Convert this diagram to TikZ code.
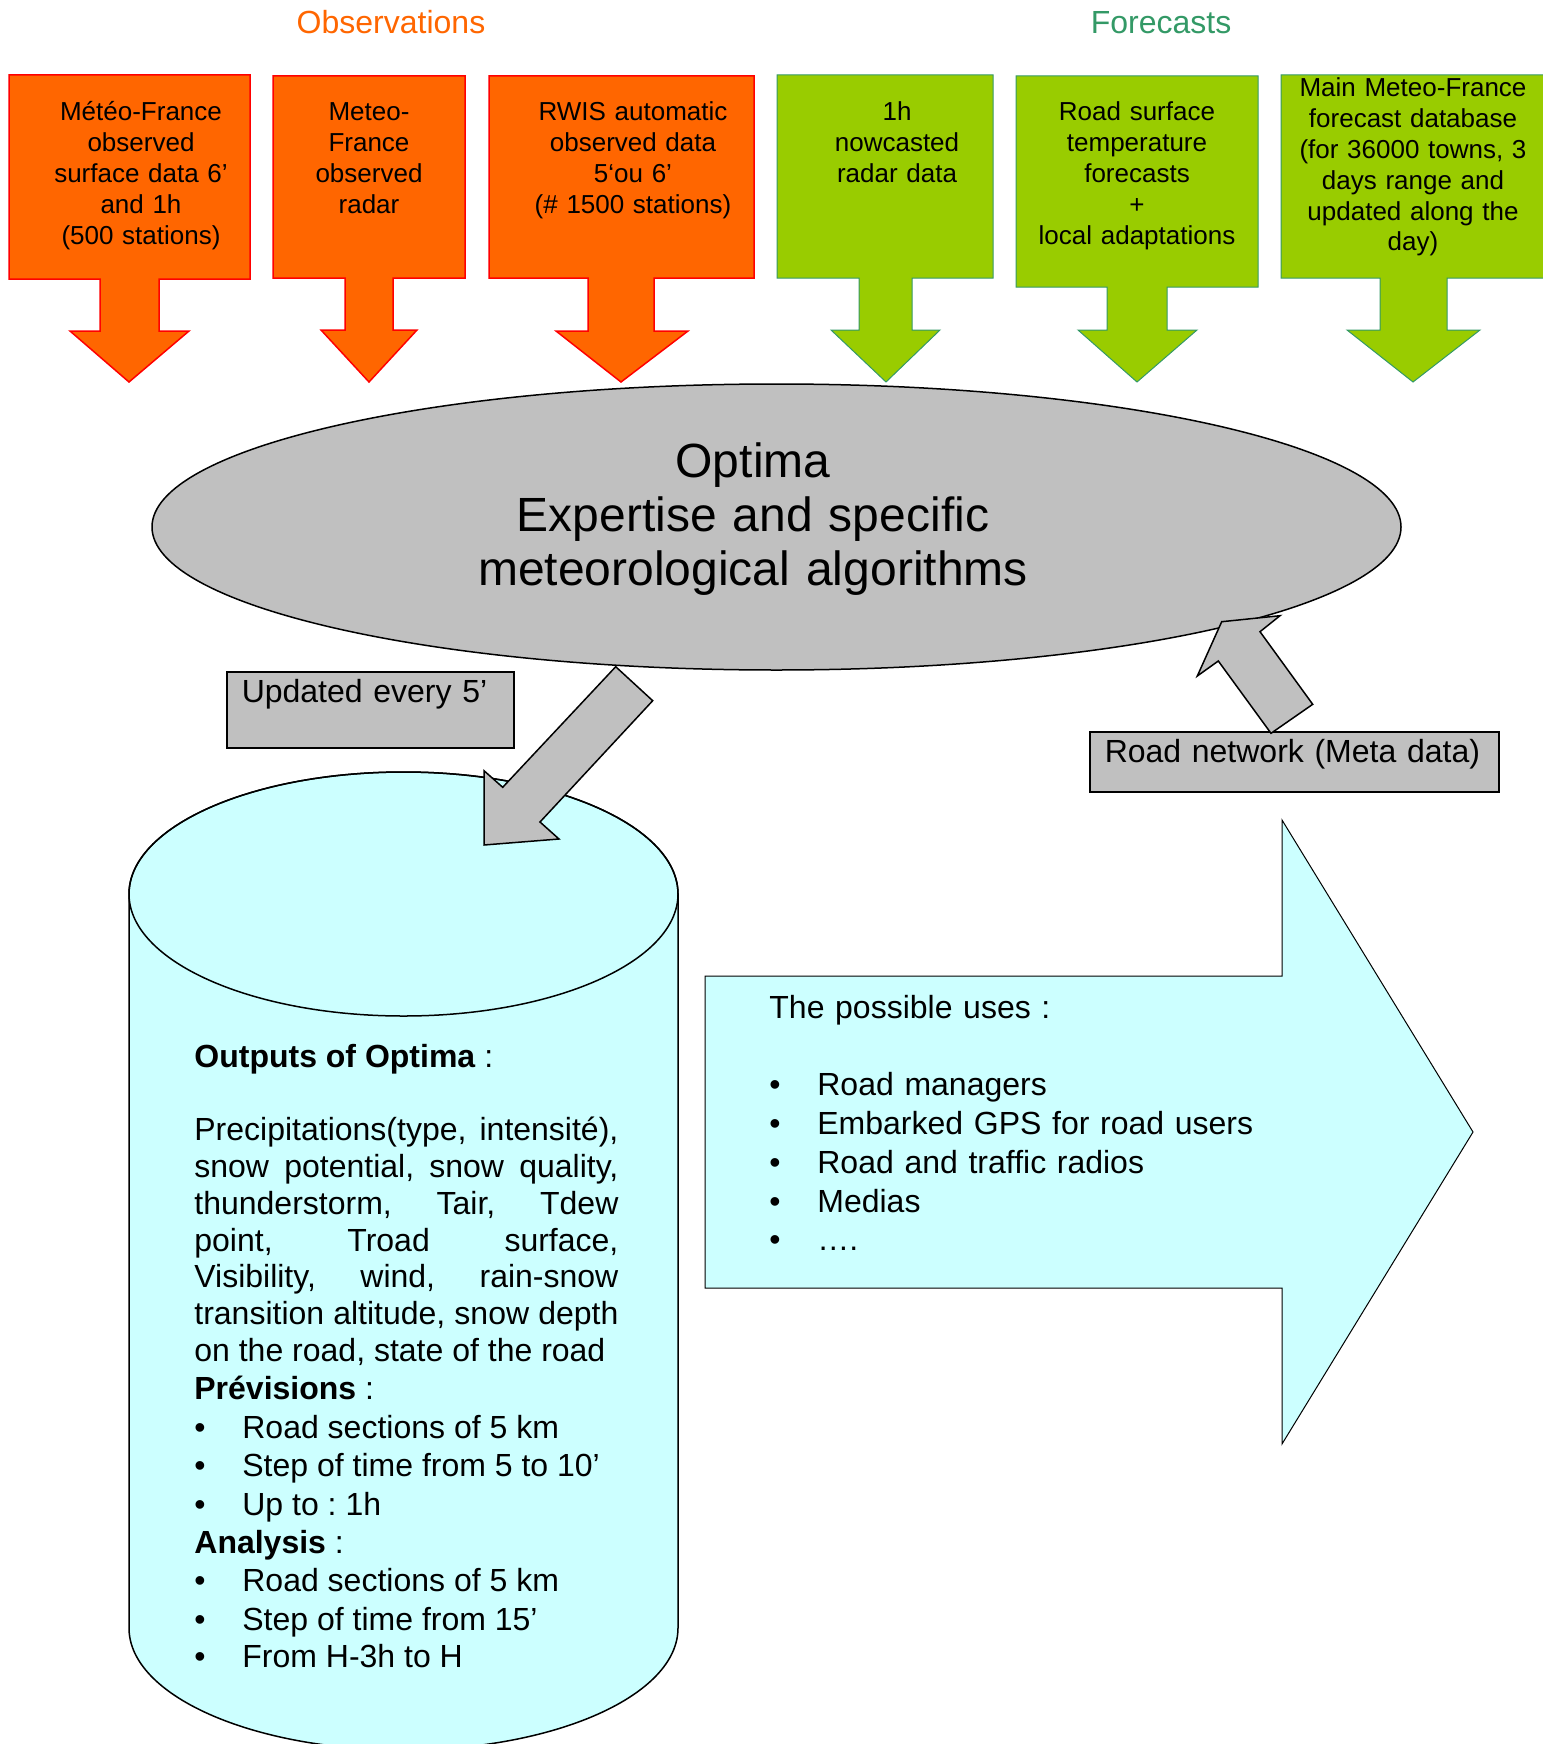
\documentclass[tikz,border=0pt]{standalone}
\usepackage{fontspec}
\setmainfont{Liberation Sans}
\usepackage{tikz}
\usetikzlibrary{shapes.geometric,positioning}
\definecolor{obsorange}{RGB}{255,102,0}
\definecolor{obsred}{RGB}{255,0,0}
\definecolor{fcgreen}{RGB}{153,204,0}
\definecolor{fcline}{RGB}{51,153,102}
\definecolor{graybg}{RGB}{192,192,192}
\definecolor{cyanbg}{RGB}{204,255,255}
\newcommand{\itembul}{\makebox[24pt][l]{\textbullet}}
\tolerance=10000
\hbadness=10000
\hyphenpenalty=10000
\exhyphenpenalty=10000
\frenchspacing
\tikzset{
  headtxt/.style={anchor=base,inner sep=0pt,font=\fontsize{16}{19}\selectfont},
  obscall/.style={fill=obsorange,draw=obsred,line width=0.75pt},
  fccall/.style={fill=fcgreen,draw=fcline,line width=0.5pt},
  calltxt/.style={anchor=base,text width=120pt,align=center,inner sep=0pt,font=\fontsize{13}{15.4}\selectfont},
  optimaell/.style={ellipse,draw,fill=graybg,line width=0.75pt,inner sep=0pt,minimum width=624.5pt,minimum height=143pt},
  optimatxt/.style={anchor=base,text width=320pt,align=center,inner sep=0pt,font=\fontsize{24}{27}\selectfont},
  graybox/.style={rectangle,draw,fill=graybg,line width=0.75pt,anchor=north west,inner xsep=7.5pt,inner ysep=2pt,text height=13.5pt,align=left,font=\fontsize{16}{19}\selectfont},
  blockarrow/.style={fill=graybg,draw,line width=0.75pt},
  cylfill/.style={fill=cyanbg,draw,line width=0.75pt},
  cyltxt/.style={anchor=base west,text width=212pt,align=justify,inner sep=0pt,font=\fontsize{16}{18.4}\selectfont},
  usestxt/.style={anchor=base west,text width=300pt,align=left,inner sep=0pt,font=\fontsize{16}{19.4}\selectfont}
}
\begin{document}
\begin{tikzpicture}[x=0.5pt,y=-0.5pt]
\useasboundingbox (0,0) rectangle (1542,1744);
% headings
\node[headtxt,text=obsorange] (obshead) at (391,34) {Observations};
\node[headtxt,text=fcline] (fchead) at (1161,34) {Forecasts};
% observation callouts
\filldraw[obscall] (9,75) -- (250,75) -- (250,279) -- (159,279) -- (159,331) -- (189,331) -- (129,382) -- (70,331) -- (100,331) -- (100,279) -- (9,279) -- cycle;
\filldraw[obscall] (273,76) -- (465,76) -- (465,278) -- (393,278) -- (393,330) -- (417,330) -- (369,382) -- (321,330) -- (345,330) -- (345,278) -- (273,278) -- cycle;
\filldraw[obscall] (489,76) -- (754,76) -- (754,278) -- (654,278) -- (654,331) -- (688,331) -- (621,382) -- (556,331) -- (588,331) -- (588,278) -- (489,278) -- cycle;
% forecast callouts
\filldraw[fccall] (777,75) -- (993,75) -- (993,278) -- (912,278) -- (912,330) -- (940,330) -- (886,382) -- (831,330) -- (859,330) -- (859,278) -- (777,278) -- cycle;
\filldraw[fccall] (1016,76) -- (1258,76) -- (1258,287) -- (1167,287) -- (1167,330) -- (1197,330) -- (1137,382) -- (1078,330) -- (1107,330) -- (1107,287) -- (1016,287) -- cycle;
\filldraw[fccall] (1281,75) -- (1546,75) -- (1546,278) -- (1447,278) -- (1447,330) -- (1480,330) -- (1413,382) -- (1347,330) -- (1380,330) -- (1380,278) -- (1281,278) -- cycle;
\node[calltxt] (obs1) at (141,121) {Météo-France\\observed\\surface data 6’\\and 1h\\(500 stations)};
\node[calltxt] (obs2) at (369,121) {Meteo-\\France\\observed\\radar};
\node[calltxt] (obs3) at (633,121) {RWIS automatic\\observed data\\5‘ou 6’\\(\# 1500 stations)};
\node[calltxt] (fc1) at (897,121) {1h\\nowcasted\\radar data};
\node[calltxt] (fc2) at (1137,121) {Road surface\\temperature\\forecasts\\+\\local adaptations};
\node[calltxt] (fc3) at (1413,97) {Main Meteo-France\\forecast database\\(for 36000 towns, 3\\days range and\\updated along the\\day)};
% outputs cylinder
\filldraw[cylfill] (129,894) -- (129,1628) arc[start angle=180,end angle=360,x radius=137.25pt,y radius=61pt] -- (678,894) arc[start angle=0,end angle=180,x radius=137.25pt,y radius=61pt] -- cycle;
\draw[line width=0.75pt] (403.5,894) ellipse[x radius=137.25pt,y radius=61pt];
% central ellipse
\node[optimaell] (optima) at (776.5,527) {};
\node[optimatxt] (optimatxt) at (753,477) {Optima\\Expertise and specific\\meteorological algorithms};
% grey labels
\node[graybox,text width=128.5pt,text depth=20.5pt] (updated) at (226,671) {Updated every 5’};
\node[graybox,text width=189.5pt,text depth=12.5pt] (roadnet) at (1089,731) {Road network (Meta data)};
% block arrows
\filldraw[blockarrow] (615.7,666.7) -- (652.7,700.7) -- (540,822) -- (559,839) -- (484,845) -- (484,770.7) -- (502.7,787.3) -- cycle;
\filldraw[blockarrow] (1221.7,621.7) -- (1280,615.7) -- (1260,631.7) -- (1312.7,704.3) -- (1271,733.3) -- (1218.3,661) -- (1197.3,676) -- cycle;
% uses arrow
\filldraw[fill=cyanbg,draw,line width=0.5pt] (705,976) -- (1282,976) -- (1282,820) -- (1473,1132) -- (1282,1444) -- (1282,1288) -- (705,1288) -- cycle;
\node[usestxt] (uses) at (769,1018) {The possible uses :\\\mbox{}\\
\itembul Road managers\\
\itembul Embarked GPS for road users\\
\itembul Road and traffic radios\\
\itembul Medias\\
\itembul ….};
\node[cyltxt] (outputs) at (194,1067) {\textbf{Outputs of Optima} :\\\mbox{}\\
Precipitations(type, intensité),\linebreak
snow potential, snow quality,\linebreak
thunderstorm, Tair, Tdew\linebreak
point, Troad surface,\linebreak
Visibility, wind, rain-snow\linebreak
transition altitude, snow depth\linebreak
on the road, state of the road\par
\baselineskip=19.2pt
\textbf{Prévisions} :\par
\itembul Road sections of 5 km\par
\itembul Step of time from 5 to 10’\par
\itembul Up to : 1h\par
\textbf{Analysis} :\par
\itembul Road sections of 5 km\par
\itembul Step of time from 15’\par
\itembul From H-3h to H};
\end{tikzpicture}
\end{document}
